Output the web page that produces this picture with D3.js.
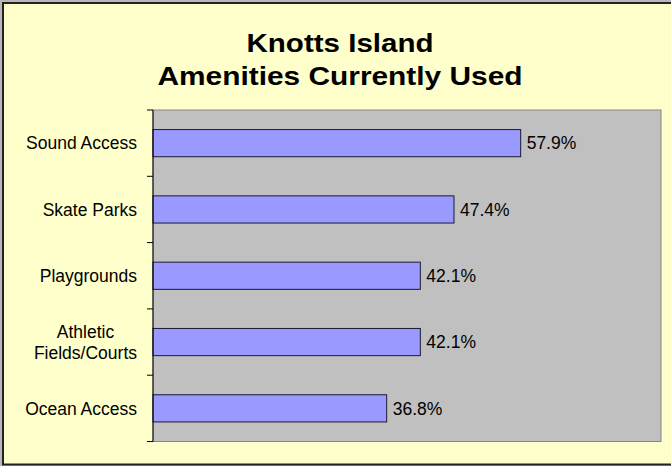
<!DOCTYPE html>
<html>
<head>
<meta charset="utf-8">
<script src="https://cdn.jsdelivr.net/npm/d3@7"></script>
<style>
  body { margin: 0; background: #fff; }
  svg { display: block; font-family: "Liberation Sans", Arial, sans-serif; }
</style>
</head>
<body>
<div id="chart"></div>
<script>
// Data
const titleLines = ["Knotts Island", "Amenities Currently Used"];
const categories = ["Sound Access", "Skate Parks", "Playgrounds", "Athletic Fields/Courts", "Ocean Access"];
const categoryLines = [["Sound Access"], ["Skate Parks"], ["Playgrounds"], ["Athletic", "Fields/Courts"], ["Ocean Access"]];
const values = [0.579, 0.474, 0.421, 0.421, 0.368];

const width = 671, height = 466;
const plot = { left: 153, right: 661, top: 110, bottom: 441.5 };

const svg = d3.select("#chart").append("svg")
    .attr("width", width)
    .attr("height", height);

// light outer strip + chart area with dark border
svg.append("rect")
    .attr("width", width).attr("height", height)
    .attr("fill", "#b8b8b8");
svg.append("rect")
    .attr("x", 3).attr("y", 3)
    .attr("width", 670).attr("height", 461.5)
    .attr("fill", "#ffffcc")
    .attr("stroke", "#222")
    .attr("stroke-width", 2);

// Title (two lines)
const titleWidths = [187, 365];
svg.selectAll(".title")
    .data(titleLines)
    .enter().append("text")
    .attr("class", "title")
    .attr("x", 340)
    .attr("y", (d, i) => 51.5 + i * 33.5)
    .attr("text-anchor", "middle")
    .attr("font-size", 26)
    .attr("font-weight", "bold")
    .attr("fill", "#000")
    .attr("textLength", (d, i) => titleWidths[i])
    .attr("lengthAdjust", "spacingAndGlyphs")
    .text(d => d);

// Scales
const x = d3.scaleLinear().domain([0, 0.8]).range([plot.left, plot.right]);
const y = d3.scaleBand().domain(categories)
    .range([plot.top, plot.bottom])
    .paddingInner(0.59)
    .paddingOuter(0.295);
const tickY = d3.scaleLinear().domain([0, categories.length]).range([plot.top, plot.bottom]);

// Plot area
svg.append("rect")
    .attr("x", plot.left).attr("y", plot.top)
    .attr("width", plot.right - plot.left)
    .attr("height", plot.bottom - plot.top)
    .attr("fill", "#c0c0c0")
    .attr("stroke", "#858585")
    .attr("stroke-width", 1);

// Bars
svg.selectAll(".bar")
    .data(values)
    .enter().append("rect")
    .attr("class", "bar")
    .attr("x", x(0))
    .attr("y", (d, i) => y(categories[i]))
    .attr("width", d => x(d) - x(0))
    .attr("height", y.bandwidth())
    .attr("fill", "#9999ff")
    .attr("stroke", "#1a1a33")
    .attr("stroke-width", 1);

// Value labels
svg.selectAll(".val")
    .data(values)
    .enter().append("text")
    .attr("class", "val")
    .attr("x", d => x(d) + 6)
    .attr("y", (d, i) => y(categories[i]) + y.bandwidth() / 2)
    .attr("dy", "0.36em")
    .attr("font-size", 17.5)
    .attr("fill", "#000")
    .text(d => d3.format(".1%")(d));

// Category axis: line + ticks at band boundaries
const axis = svg.append("g");
axis.append("line")
    .attr("x1", plot.left).attr("x2", plot.left)
    .attr("y1", plot.top).attr("y2", plot.bottom)
    .attr("stroke", "#000");
axis.selectAll(".tick")
    .data(d3.range(categories.length + 1))
    .enter().append("line")
    .attr("x1", plot.left - 6).attr("x2", plot.left)
    .attr("y1", d => tickY(d)).attr("y2", d => tickY(d))
    .attr("stroke", "#000");

// Category labels: block right-aligned at 137, lines centred in the block
const labelRight = 137;
const lineGap = 21;
categoryLines.forEach((lines, i) => {
    const cy = y(categories[i]) + y.bandwidth() / 2;
    const g = svg.append("g");
    const texts = g.selectAll("text")
        .data(lines)
        .enter().append("text")
        .attr("font-size", 17.5)
        .attr("fill", "#000")
        .attr("text-anchor", "middle")
        .attr("y", (d, j) => cy + (j - (lines.length - 1) / 2) * lineGap)
        .attr("dy", "0.36em")
        .text(d => d);
    let maxW = 0;
    texts.each(function() { maxW = Math.max(maxW, this.getComputedTextLength()); });
    texts.attr("x", labelRight - maxW / 2);
});
</script>
</body>
</html>
